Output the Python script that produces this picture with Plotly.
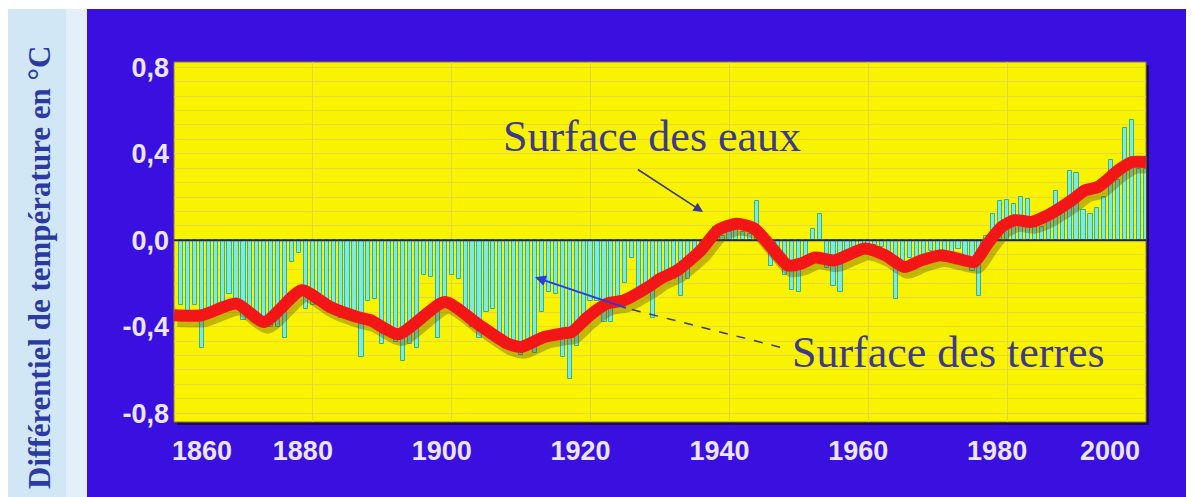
import plotly.graph_objects as go

# ---------------- data ----------------
years = list(range(1861, 2001))
anomalies = [
    -0.30, -0.33, -0.30, -0.50, -0.35, -0.33, -0.31, -0.25, -0.27, -0.37,   # 1861-1870
    -0.36, -0.38, -0.38, -0.40, -0.40, -0.45, -0.10, -0.06, -0.32, -0.30,   # 1871-1880
    -0.28, -0.30, -0.31, -0.36, -0.35, -0.36, -0.54, -0.28, -0.27, -0.48,   # 1881-1890
    -0.44, -0.47, -0.56, -0.48, -0.50, -0.16, -0.17, -0.45, -0.27, -0.16,   # 1891-1900
    -0.18, -0.33, -0.40, -0.45, -0.33, -0.32, -0.47, -0.49, -0.50, -0.53,   # 1901-1910
    -0.50, -0.52, -0.33, -0.24, -0.25, -0.54, -0.64, -0.49, -0.38, -0.28,   # 1911-1920
    -0.28, -0.38, -0.38, -0.30, -0.20, -0.08, -0.25, -0.22, -0.36, -0.20,   # 1921-1930
    -0.16, -0.18, -0.26, -0.18, -0.10, -0.06, -0.01, 0.06, 0.02, 0.04,      # 1931-1940
    0.05, 0.04, 0.03, 0.18, 0.03, -0.12, -0.09, -0.16, -0.23, -0.24,        # 1941-1950
    -0.10, 0.05, 0.12, -0.13, -0.21, -0.24, -0.06, -0.03, -0.04, -0.05,     # 1951-1960
    -0.02, -0.03, -0.06, -0.27, -0.12, -0.08, -0.08, -0.10, -0.05, -0.06,   # 1961-1970
    -0.10, -0.08, -0.04, -0.12, -0.14, -0.26, 0.02, 0.12, 0.18, 0.185,      # 1971-1980
    0.17, 0.20, 0.19, 0.09, 0.06, 0.09, 0.23, 0.16, 0.32, 0.31,             # 1981-1990
    0.14, 0.12, 0.15, 0.20, 0.37, 0.28, 0.52, 0.556, 0.33, 0.33,            # 1991-2000
]
assert len(years) == len(anomalies)

trend_years = [1860, 1864, 1869, 1873, 1878.4, 1882.5, 1886.4, 1888.3, 1892.3, 1899,
               1903.7, 1908, 1910, 1913.3, 1916, 1917.3, 1919.6, 1922.4, 1924.8, 1928.7,
               1930.1, 1932.5, 1935.9, 1938.3, 1941, 1943.6, 1946, 1948.4, 1950.3, 1952.3,
               1955.1, 1959.5, 1962.4, 1965.2, 1967.6, 1970.5, 1972.9, 1975.3, 1977.2, 1979.2,
               1981.1, 1983.5, 1985.9, 1989.3, 1991.2, 1993.1, 1996, 1998, 2000]
trend_values = [-0.347, -0.347, -0.293, -0.378, -0.231, -0.309, -0.355, -0.370, -0.435, -0.286,
                -0.386, -0.478, -0.494, -0.448, -0.431, -0.424, -0.355, -0.293, -0.278, -0.208,
                -0.177, -0.139, -0.046, 0.046, 0.077, 0.054, -0.031, -0.116, -0.108, -0.080,
                -0.093, -0.038, -0.069, -0.124, -0.093, -0.069, -0.085, -0.100, -0.015, 0.062,
                0.093, 0.085, 0.116, 0.185, 0.231, 0.247, 0.324, 0.362, 0.362]

x_range = [1860, 2000]
y_range = [-0.841, 0.825]
mid_ticks = [1880, 1900, 1920, 1940, 1960, 1980]
y_ticks = [-0.8, -0.4, 0.0, 0.4, 0.8]
y_ticktext = ["-0,8", "-0,4", "0,0", "0,4", "0,8"]

# ---------------- figure geometry (page has an 8px body margin) ----------------
OFF = 8
W, H = 1194 - OFF, 497 - OFF
ML, MR, MT, MB = 174 - OFF, 48, 62 - OFF, 75
PW, PH = W - ML - MR, H - MT - MB


def px(x):
    """window pixel x -> paper coordinate"""
    return (x - OFF - ML) / PW


def py(y):
    """window pixel y -> paper coordinate"""
    return (H - MB - (y - OFF)) / PH


BG_BLUE = "#3a10e0"
YELLOW = "#f9f300"
LABEL = "#ebe6ff"
TXT = "#3d3a8e"

fig = go.Figure()

fig.add_trace(go.Bar(
    x=years, y=anomalies, width=0.6,
    marker=dict(color="#7eeae2", line=dict(color="#35b48a", width=1)),
    hoverinfo="x+y", showlegend=False,
))

# zero reference line
fig.add_trace(go.Scatter(
    x=x_range, y=[0, 0], mode="lines",
    line=dict(color="#1e2456", width=2), hoverinfo="skip", showlegend=False,
))

# soft shadow of the smoothed curve
fig.add_trace(go.Scatter(
    x=[t + 0.5 for t in trend_years], y=[v - 0.022 for v in trend_values],
    mode="lines", line=dict(color="rgba(90,70,0,0.35)", width=14, shape="spline", smoothing=0.6),
    hoverinfo="skip", showlegend=False,
))
fig.add_trace(go.Scatter(
    x=trend_years, y=trend_values, mode="lines",
    line=dict(color="#f21616", width=12, shape="spline", smoothing=0.6),
    hoverinfo="skip", showlegend=False,
))

# invisible carriers so the two end-label axes get drawn
for ax in ("x2", "x3"):
    fig.add_trace(go.Scatter(
        x=x_range, y=[0, 0], xaxis=ax, yaxis="y", mode="lines",
        line=dict(width=0, color="rgba(0,0,0,0)"), hoverinfo="skip", showlegend=False,
    ))

tickfont = dict(family="Liberation Sans", size=27, color=LABEL, weight="bold")

shapes = [
    # left light band
    dict(type="rect", xref="paper", yref="paper", x0=px(0), x1=px(66), y0=py(497), y1=py(8),
         fillcolor="#d2e7f6", line_width=0, layer="below"),
    dict(type="rect", xref="paper", yref="paper", x0=px(66), x1=px(87), y0=py(497), y1=py(8),
         fillcolor="#e3f0fa", line_width=0, layer="below"),
    dict(type="rect", xref="paper", yref="paper", x0=px(8), x1=px(1194), y0=py(9), y1=py(8),
         fillcolor="#ffffff", line_width=0, layer="below"),
    # plot area shadow + yellow plot area
    dict(type="rect", xref="paper", yref="paper", x0=px(177), x1=px(1149),
         y0=py(425), y1=py(65), fillcolor="#1a0a58", line_width=0, layer="below"),
    dict(type="rect", xref="paper", yref="paper", x0=0, x1=1, y0=0, y1=1,
         fillcolor=YELLOW, line=dict(color="#8a7a30", width=1), layer="below"),
    # dashed tail of the "terres" pointer
    dict(type="line", xref="x", yref="y", x0=1947.3, y0=-0.495, x1=1925.3, y1=-0.315,
         line=dict(color="#3a3a70", width=1.5, dash="dash")),
]

annotations = [
    dict(text="Différentiel de température en °C", xref="paper", yref="paper",
         x=px(39), y=py(268), xanchor="center", yanchor="middle", textangle=-90,
         showarrow=False,
         font=dict(family="Liberation Serif", size=31, color="#2a3aa2", weight="bold")),
    dict(text="Surface des eaux", xref="x", yref="y", x=1928.8, y=0.478, showarrow=False,
         font=dict(family="Liberation Serif", size=44, color=TXT)),
    dict(text="Surface des terres", xref="x", yref="y", x=1971.6, y=-0.519, showarrow=False,
         font=dict(family="Liberation Serif", size=44, color=TXT)),
    dict(text="", xref="x", yref="y", x=1936.2, y=0.131, ax=1926.6, ay=0.332,
         axref="x", ayref="y", showarrow=True, arrowhead=2, arrowsize=1.2, arrowwidth=1.6,
         arrowcolor="#3a3a8a"),
    dict(text="", xref="x", yref="y", x=1912.0, y=-0.171, ax=1925.3, ay=-0.315,
         axref="x", ayref="y", showarrow=True, arrowhead=2, arrowsize=1.2, arrowwidth=1.8,
         arrowcolor="#2c3cd8"),
]

common_x = dict(range=x_range, tickmode="array", zeroline=False, showline=False, ticks="",
                tickfont=tickfont, ticklabelstandoff=10, fixedrange=True)

fig.update_layout(
    width=W, height=H,
    margin=dict(l=ML, r=MR, t=MT, b=MB, pad=0),
    paper_bgcolor=BG_BLUE,
    plot_bgcolor="rgba(0,0,0,0)",
    bargap=0,
    shapes=shapes,
    annotations=annotations,
    xaxis=dict(**common_x, tickvals=mid_ticks, ticktext=[str(t) for t in mid_ticks],
               ticklabelshift=-10, showgrid=True, gridcolor="#e0d640", gridwidth=1),
    xaxis2=dict(**common_x, overlaying="x", anchor="y", side="bottom",
                tickvals=[x_range[0]], ticktext=[str(x_range[0])], ticklabelshift=28,
                showgrid=False),
    xaxis3=dict(**common_x, overlaying="x", anchor="y", side="bottom",
                tickvals=[x_range[1]], ticktext=[str(x_range[1])], ticklabelshift=-36,
                showgrid=False),
    yaxis=dict(range=y_range, tickmode="array", tickvals=y_ticks, ticktext=y_ticktext,
               showgrid=False, zeroline=False, showline=False, ticks="",
               tickfont=tickfont, ticklabelstandoff=4, fixedrange=True,
               minor=dict(tick0=0.0, dtick=0.0667, showgrid=True, gridcolor="#e4d940",
                          gridwidth=1, ticks="")),
)

fig.write_html("out.html")
